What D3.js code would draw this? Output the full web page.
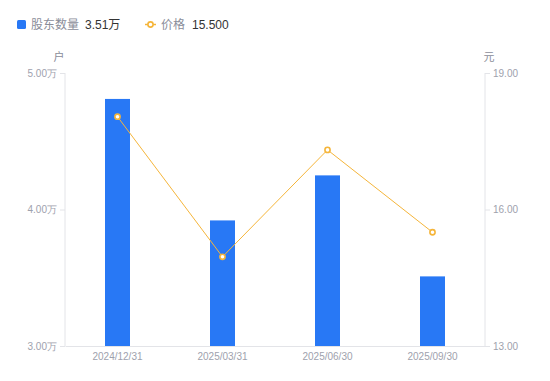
<!DOCTYPE html>
<html><head><meta charset="utf-8">
<script src="https://cdn.jsdelivr.net/npm/d3@7/dist/d3.min.js"></script>
<style>
html,body{margin:0;padding:0;background:#fff;}
svg{display:block;font-family:"Liberation Sans","Noto Sans CJK SC",sans-serif;}
</style></head>
<body><svg id="c" width="550" height="381"></svg>
<script>
const categories = ["2024/12/31","2025/03/31","2025/06/30","2025/09/30"];
const holders = [4.81, 3.92, 4.25, 3.51];   // 万户
const prices = [18.04, 14.96, 17.31, 15.50]; // 元
const leftTicks = [3, 4, 5];
const rightTicks = [13, 16, 19];

const svg = d3.select("#c");
const m = {l:65, r:485, t:73, b:346};

const x = d3.scaleBand().domain(categories).range([m.l, m.r]);
const yL = d3.scaleLinear().domain([3,5]).range([m.b, m.t]);
const yR = d3.scaleLinear().domain([13,19]).range([m.b, m.t]);

const axisColor = "#e3e4e8";
const labelColor = "#9ea1ad";

// axes
const gL = svg.append("g").attr("transform",`translate(${m.l},0)`)
  .call(d3.axisLeft(yL).tickValues(leftTicks).tickSize(5).tickPadding(3).tickFormat(d=>d3.format(".2f")(d)+"万"));
const gR = svg.append("g").attr("transform",`translate(${m.r},0)`)
  .call(d3.axisRight(yR).tickValues(rightTicks).tickSize(5).tickPadding(3).tickFormat(d3.format(".2f")));
const gX = svg.append("g").attr("transform",`translate(0,${m.b})`)
  .call(d3.axisBottom(x).tickSize(0).tickPadding(7));
[gL,gR,gX].forEach(g=>{
  g.select(".domain").attr("stroke",axisColor);
  g.selectAll(".tick line").attr("stroke",axisColor);
  g.selectAll(".tick text").attr("fill",labelColor).style("font-size","10px");
});
gL.select(".domain").attr("d",`M0,${m.t}V${m.b}`);
gR.select(".domain").attr("d",`M0,${m.t}V${m.b}`);

// axis names
svg.append("text").attr("x",59).attr("y",61).attr("text-anchor","middle")
  .attr("fill","#8a8d99").style("font-size","11px").text("户");
svg.append("text").attr("x",489).attr("y",61).attr("text-anchor","middle")
  .attr("fill","#8a8d99").style("font-size","11px").text("元");

// bars
const bw = 25;
svg.append("g").selectAll("rect").data(holders).join("rect")
  .attr("x",(d,i)=>x(categories[i])+x.bandwidth()/2-bw/2)
  .attr("y",d=>yL(d))
  .attr("width",bw)
  .attr("height",d=>yL(3)-yL(d))
  .attr("fill","#2878f5");

// line
const lineColor = "#f5b53a";
const line = d3.line().x((d,i)=>x(categories[i])+x.bandwidth()/2).y(d=>yR(d));
svg.append("path").datum(prices).attr("d",line).attr("fill","none")
  .attr("stroke",lineColor).attr("stroke-width",1);
svg.append("g").selectAll("circle").data(prices).join("circle")
  .attr("cx",(d,i)=>x(categories[i])+x.bandwidth()/2)
  .attr("cy",d=>yR(d)).attr("r",2.6)
  .attr("fill","#fff").attr("stroke",lineColor).attr("stroke-width",1.6);

// legend
const lg = svg.append("g");
lg.append("rect").attr("x",17).attr("y",20).attr("width",9).attr("height",9).attr("rx",1.5).attr("fill","#2878f5");
lg.append("text").attr("x",31).attr("y",29).attr("fill","#8a8d99").style("font-size","12px").text("股东数量");
lg.append("text").attr("x",85).attr("y",29).attr("fill","#333").style("font-size","12px").text(d3.format(".2f")(holders[3])+"万");
lg.append("line").attr("x1",145).attr("x2",156).attr("y1",24.5).attr("y2",24.5).attr("stroke",lineColor).attr("stroke-width",1.5);
lg.append("circle").attr("cx",150.5).attr("cy",24.5).attr("r",2.6).attr("fill","#fff").attr("stroke",lineColor).attr("stroke-width",1.6);
lg.append("text").attr("x",161).attr("y",29).attr("fill","#8a8d99").style("font-size","12px").text("价格");
lg.append("text").attr("x",192).attr("y",29).attr("fill","#333").style("font-size","12px").text(d3.format(".3f")(prices[3]));
</script></body></html>
